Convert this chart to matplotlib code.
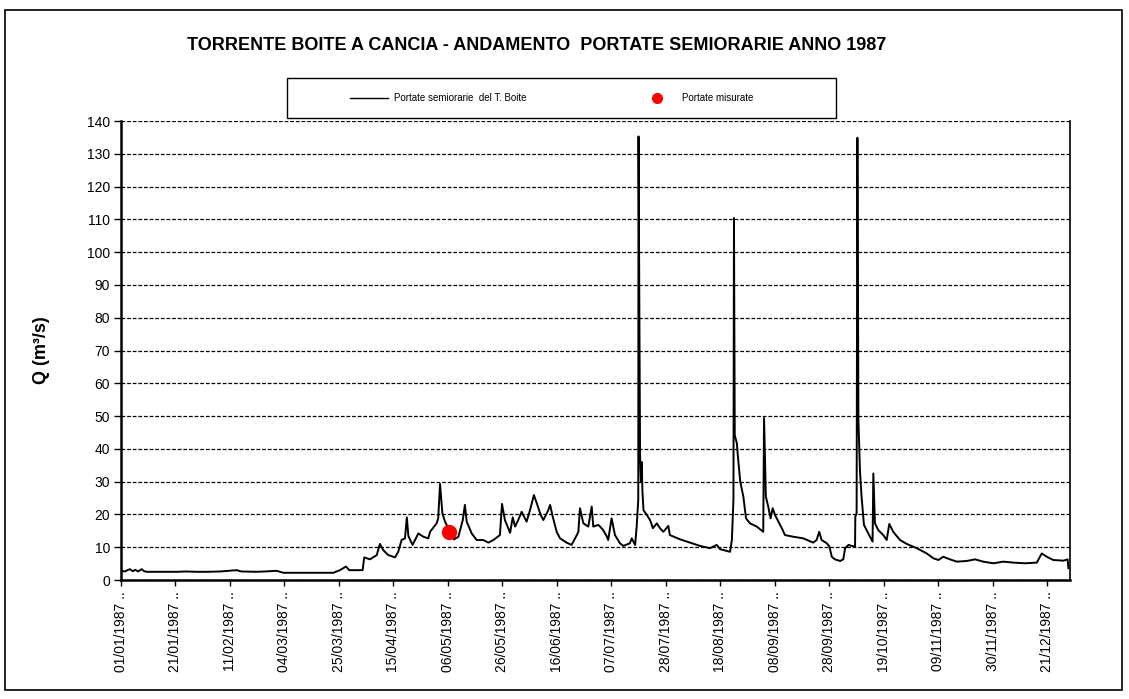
import matplotlib
matplotlib.use("Agg")
import matplotlib.pyplot as plt
from matplotlib.patches import Rectangle
from matplotlib.lines import Line2D

plt.rcParams['font.family'] = ['Liberation Sans', 'DejaVu Sans']

# ---------------- data (day of year 1987 from 01/01 00:00, Q in m3/s) -------------
day = [0.0, 0.3, 1.5, 2.5, 3.4, 4.5, 5.5, 6.5, 7.9, 8.8, 9.8, 15.0, 21.3, 25.0, 28.9,
       33.0, 38.0, 44.2, 46.0, 51.9, 55.0, 59.5, 62.1, 70.0, 76.0, 81.2, 83.7, 86.0,
       87.3, 92.4, 93.0, 95.2, 97.8, 99.0, 100.3, 102.2, 104.8, 106.0, 107.3, 108.6,
       109.3, 109.9, 111.5, 113.7, 115.6, 117.5, 118.2, 120.7, 121.3, 122.0, 122.9,
       123.9, 127.3, 129.0, 130.7, 131.5, 132.2, 134.1, 136.0, 138.5, 140.5, 142.4,
       144.9, 145.7, 146.8, 148.8, 149.8, 150.7, 151.9, 153.2, 155.1, 156.4, 157.9,
       159.0, 160.5, 161.5, 163.4, 164.1, 165.1, 166.6, 167.9, 170.4, 172.3, 174.3,
       174.9, 175.5, 176.8, 178.7, 180.0, 180.6, 182.5, 183.2, 184.4, 185.7, 186.3,
       187.6, 188.9, 190.8, 192.1, 194.6, 195.3, 196.6, 197.2, 197.8, 197.9, 198.2,
       198.5, 198.8, 199.1, 199.4, 199.8, 201.1, 202.3, 203.4, 204.9, 206.1, 207.4,
       209.3, 209.9, 213.8, 217.6, 221.4, 225.2, 227.8, 229.1, 232.9, 233.6, 234.2,
       234.4, 234.7, 235.5, 235.8, 236.8, 238.0, 239.0, 240.5, 243.1, 245.6, 245.9,
       246.6, 247.5, 248.4, 249.2, 250.1, 251.4, 252.7, 253.9, 257.1, 260.9, 264.7,
       266.0, 267.0, 267.9, 269.9, 270.9, 271.8, 273.0, 275.0, 276.2, 276.9, 278.2,
       279.4, 280.7, 280.8, 281.3, 281.6, 282.0, 282.6, 283.2, 284.1, 285.8, 287.4,
       287.7, 288.3, 289.6, 291.5, 292.8, 293.8, 295.3, 297.9, 300.5, 304.3, 308.1,
       310.7, 312.6, 314.4, 317.0, 319.6, 323.4, 326.6, 329.7, 333.6, 337.4, 341.2,
       345.7, 350.2, 351.4, 352.1, 354.0, 356.5, 360.4, 362.0, 362.3]
q = [2.8, 2.8, 2.6, 3.0, 3.3, 2.7, 3.1, 2.6, 3.3, 2.7, 2.5, 2.5, 2.5, 2.6, 2.5,
     2.5, 2.6, 3.0, 2.6, 2.5, 2.6, 2.8, 2.2, 2.2, 2.2, 2.2, 3.0, 4.1,
     3.0, 3.0, 6.9, 6.3, 7.6, 11.0, 9.1, 7.6, 6.9, 8.6, 12.2, 12.7,
     19.1, 13.4, 10.7, 14.2, 13.2, 12.7, 14.7, 17.3, 18.8, 29.3, 20.3,
     17.8, 12.4, 13.2, 18.3, 22.9, 17.8, 14.2, 12.2, 12.2, 11.4, 12.2,
     13.7, 23.2, 18.3, 14.4, 19.1, 16.3, 18.3, 20.8, 17.8, 21.3, 25.9,
     23.4, 19.8, 18.3, 21.3, 22.9, 19.3, 14.7, 12.7, 11.4, 10.7, 13.7,
     14.7, 21.9, 17.3, 16.3, 22.4, 16.3, 16.8, 16.3, 15.2, 13.4, 12.2,
     18.8, 13.7, 11.2, 10.4, 11.2, 12.7, 10.7, 16.3, 24.4, 135.3, 85.0,
     37.1, 30.0, 36.0, 27.0, 21.3, 19.8, 18.3, 15.8, 17.3, 15.8, 14.7,
     16.5, 13.7, 12.4, 11.4, 10.4, 9.7, 10.7, 9.4, 8.6, 12.2, 24.4,
     110.4, 44.2, 41.7, 38.6, 30.0, 25.4, 18.8, 17.3, 16.3, 14.7, 49.4,
     25.4, 22.4, 18.8, 21.9, 19.8, 17.8, 15.8, 13.7, 13.2, 12.7, 11.4,
     12.2, 14.7, 12.2, 11.2, 10.2, 7.1, 6.3, 5.8, 6.3, 9.7, 10.7,
     10.4, 10.2, 19.3, 20.3, 134.9, 48.3, 33.0, 25.4, 16.8, 14.2, 11.7,
     32.5, 17.3, 15.2, 13.7, 12.2, 17.1, 14.7, 12.2, 11.0, 9.7, 8.1,
     6.6, 6.1, 7.1, 6.3, 5.6, 5.8, 6.3, 5.6, 5.1, 5.6, 5.3,
     5.1, 5.3, 7.1, 8.1, 7.1, 6.1, 5.9, 6.3, 3.6]

meas_day = [125.5]
meas_q = [14.7]

tick_labels = ["01/01/1987", "21/01/1987", "11/02/1987", "04/03/1987", "25/03/1987",
               "15/04/1987", "06/05/1987", "26/05/1987", "16/06/1987", "07/07/1987",
               "28/07/1987", "18/08/1987", "08/09/1987", "28/09/1987", "19/10/1987",
               "09/11/1987", "30/11/1987", "21/12/1987"]
tick_interval_points = 1000      # category interval (half-hour steps)
steps_per_day = 48

title = "TORRENTE BOITE A CANCIA - ANDAMENTO  PORTATE SEMIORARIE ANNO 1987"
ylabel = "Q (m³/s)"
legend_labels = ["Portate semiorarie  del T. Boite", "Portate misurate"]

# ---------------- figure ----------------
W, H = 1129, 699
fig = plt.figure(figsize=(W / 100, H / 100), dpi=100)
fig.patch.set_facecolor("white")

L, R, T, B = 121, 1070, 121, 580
ax = fig.add_axes([L / W, 1 - B / H, (R - L) / W, (B - T) / H])

ax.plot(day, q, color="black", lw=1.4, zorder=3)
ax.plot(meas_day, meas_q, "o", color="#ff0000", ms=10, mec="#ff0000", zorder=4)

ax.set_xlim(0, 362.9)
ax.set_ylim(0, 140)
ax.set_yticks(range(0, 141, 10))
ticks = [k * tick_interval_points / steps_per_day for k in range(len(tick_labels))]
ax.set_xticks(ticks)
ax.set_xticklabels([t + " .." for t in tick_labels], rotation=90, fontsize=10)
ax.tick_params(axis="y", labelsize=10, length=5, width=1, direction="out", pad=3)
ax.tick_params(axis="x", length=4, width=1, direction="out", pad=4)

ax.yaxis.grid(True, color="black", linestyle=(0, (3, 1.5)), lw=0.9)
ax.set_axisbelow(True)
for s in ["left", "bottom"]:
    ax.spines[s].set_linewidth(1.8)
ax.spines["right"].set_linewidth(1.2)
ax.spines["top"].set_visible(False)

# outer border
fig.patches.append(Rectangle((5 / W, 1 - 690 / H), (1122 - 5) / W, (690 - 10) / H,
                             transform=fig.transFigure, fill=False, ec="black", lw=1.2))

fig.text(537 / W, 1 - 46 / H, title, ha="center", va="center", fontsize=13,
         fontweight="bold")
fig.text(42 / W, 1 - 350 / H, ylabel, ha="center", va="center", rotation=90,
         fontsize=13, fontweight="bold")

# legend frame + legend
fig.patches.append(Rectangle((287 / W, 1 - 118 / H), (836 - 287) / W, (118 - 78) / H,
                             transform=fig.transFigure, fill=True, fc="white",
                             ec="black", lw=1.0, zorder=5))
handles = [Line2D([], [], color="black", lw=1.0),
           Line2D([], [], ls="none", marker="o", color="#ff0000", ms=7)]
fig.legend(handles, legend_labels, loc="center",
           bbox_to_anchor=(552 / W, 1 - 98 / H), ncol=2, frameon=False,
           fontsize=7, handlelength=3.9, handletextpad=0.6, columnspacing=11.5)

fig.savefig("out.png", dpi=100)
